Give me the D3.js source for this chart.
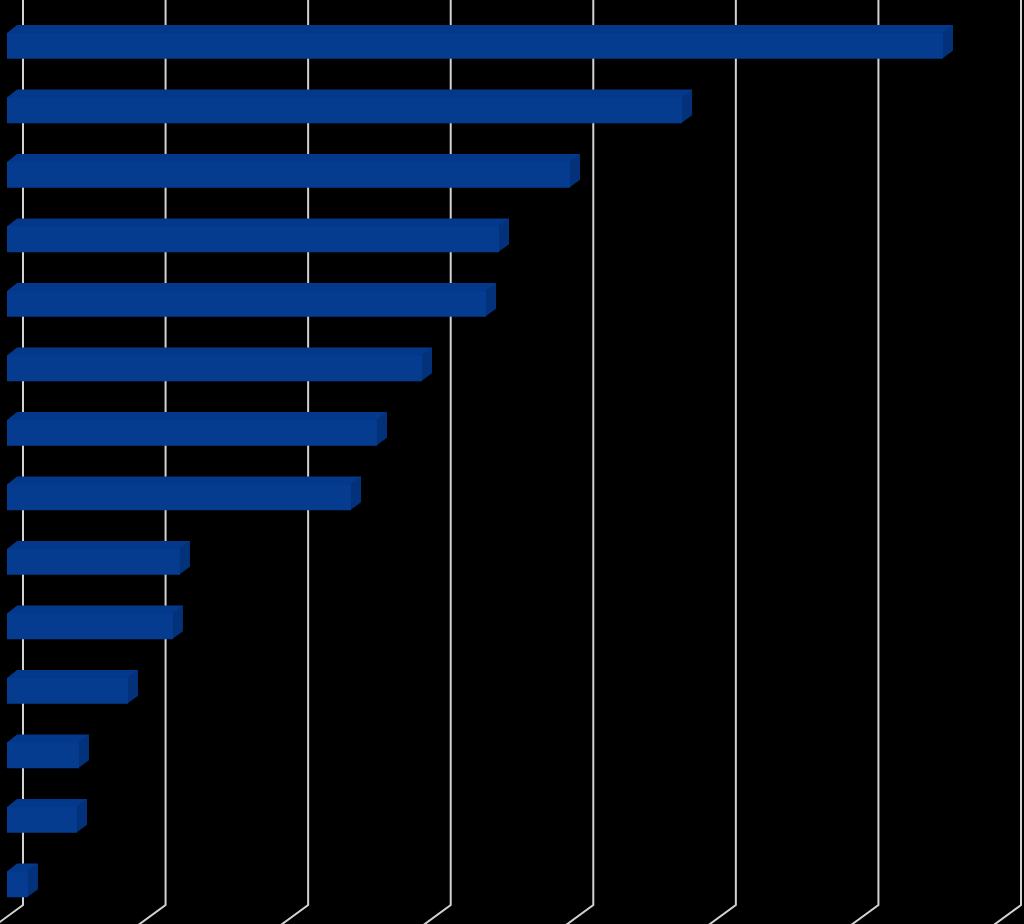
<!DOCTYPE html>
<html>
<head>
<meta charset="utf-8">
<script src="https://cdn.jsdelivr.net/npm/d3@7"></script>
<style>
  html, body { margin: 0; padding: 0; background: #000; }
  svg { display: block; }
</style>
</head>
<body>
<script>
// ---- data ----
const categories = ["1","2","3","4","5","6","7","8","9","10","11","12","13","14"];
const values = [6.565, 4.735, 3.949, 3.451, 3.360, 2.911, 2.595, 2.413, 1.213, 1.164, 0.849, 0.505, 0.491, 0.147];
const tickValues = [0, 1, 2, 3, 4, 5, 6, 7];

// ---- layout ----
const W = 1024, H = 924;
const wallBottom = 905;
const floorDX = -30, floorDY = 22;
const frontShift = -16;
const depthX = 10, depthY = -8;

const svg = d3.select("body").append("svg")
  .attr("width", W).attr("height", H);

svg.append("rect").attr("width", W).attr("height", H).attr("fill", "#000");

const x = d3.scaleLinear().domain([0, 7]).range([23, 1021]);
const y = d3.scaleBand().domain(categories)
  .range([13.6, 916.6]).paddingInner(0.6).paddingOuter(0.3);

// gridlines (back wall + floor diagonals)
svg.append("g").selectAll("path").data(tickValues).enter().append("path")
  .attr("d", d => {
    const gx = x(d);
    return `M${gx},0 L${gx},${wallBottom} L${gx + floorDX},${wallBottom + floorDY}`;
  })
  .attr("fill", "none")
  .attr("stroke", "#d2d2d2")
  .attr("stroke-width", 2);

// bars
const bars = svg.append("g").selectAll("g")
  .data(values.map((v, i) => ({ cat: categories[i], v })))
  .enter().append("g");

const xf = v => x(v) + frontShift;

bars.append("path") // top face (extends under the front face to avoid seams)
  .attr("d", d => {
    const x0 = xf(0), x1 = xf(d.v), yt = y(d.cat);
    return `M${x0},${yt + 2} L${x0},${yt} L${x0 + depthX},${yt + depthY} L${x1 + depthX},${yt + depthY} L${x1 + depthX},${yt + depthY + 2} L${x1},${yt + 2} Z`;
  })
  .attr("fill", "#04388a");

bars.append("path") // side face
  .attr("d", d => {
    const x1 = xf(d.v), yt = y(d.cat), yb = yt + y.bandwidth();
    return `M${x1 - 1},${yt} L${x1 + depthX},${yt + depthY} L${x1 + depthX},${yb + depthY} L${x1 - 1},${yb} Z`;
  })
  .attr("fill", "#03327a");

bars.append("rect") // front face
  .attr("x", xf(0))
  .attr("y", d => y(d.cat))
  .attr("width", d => xf(d.v) - xf(0))
  .attr("height", y.bandwidth())
  .attr("fill", "#063c8f");
</script>
</body>
</html>
